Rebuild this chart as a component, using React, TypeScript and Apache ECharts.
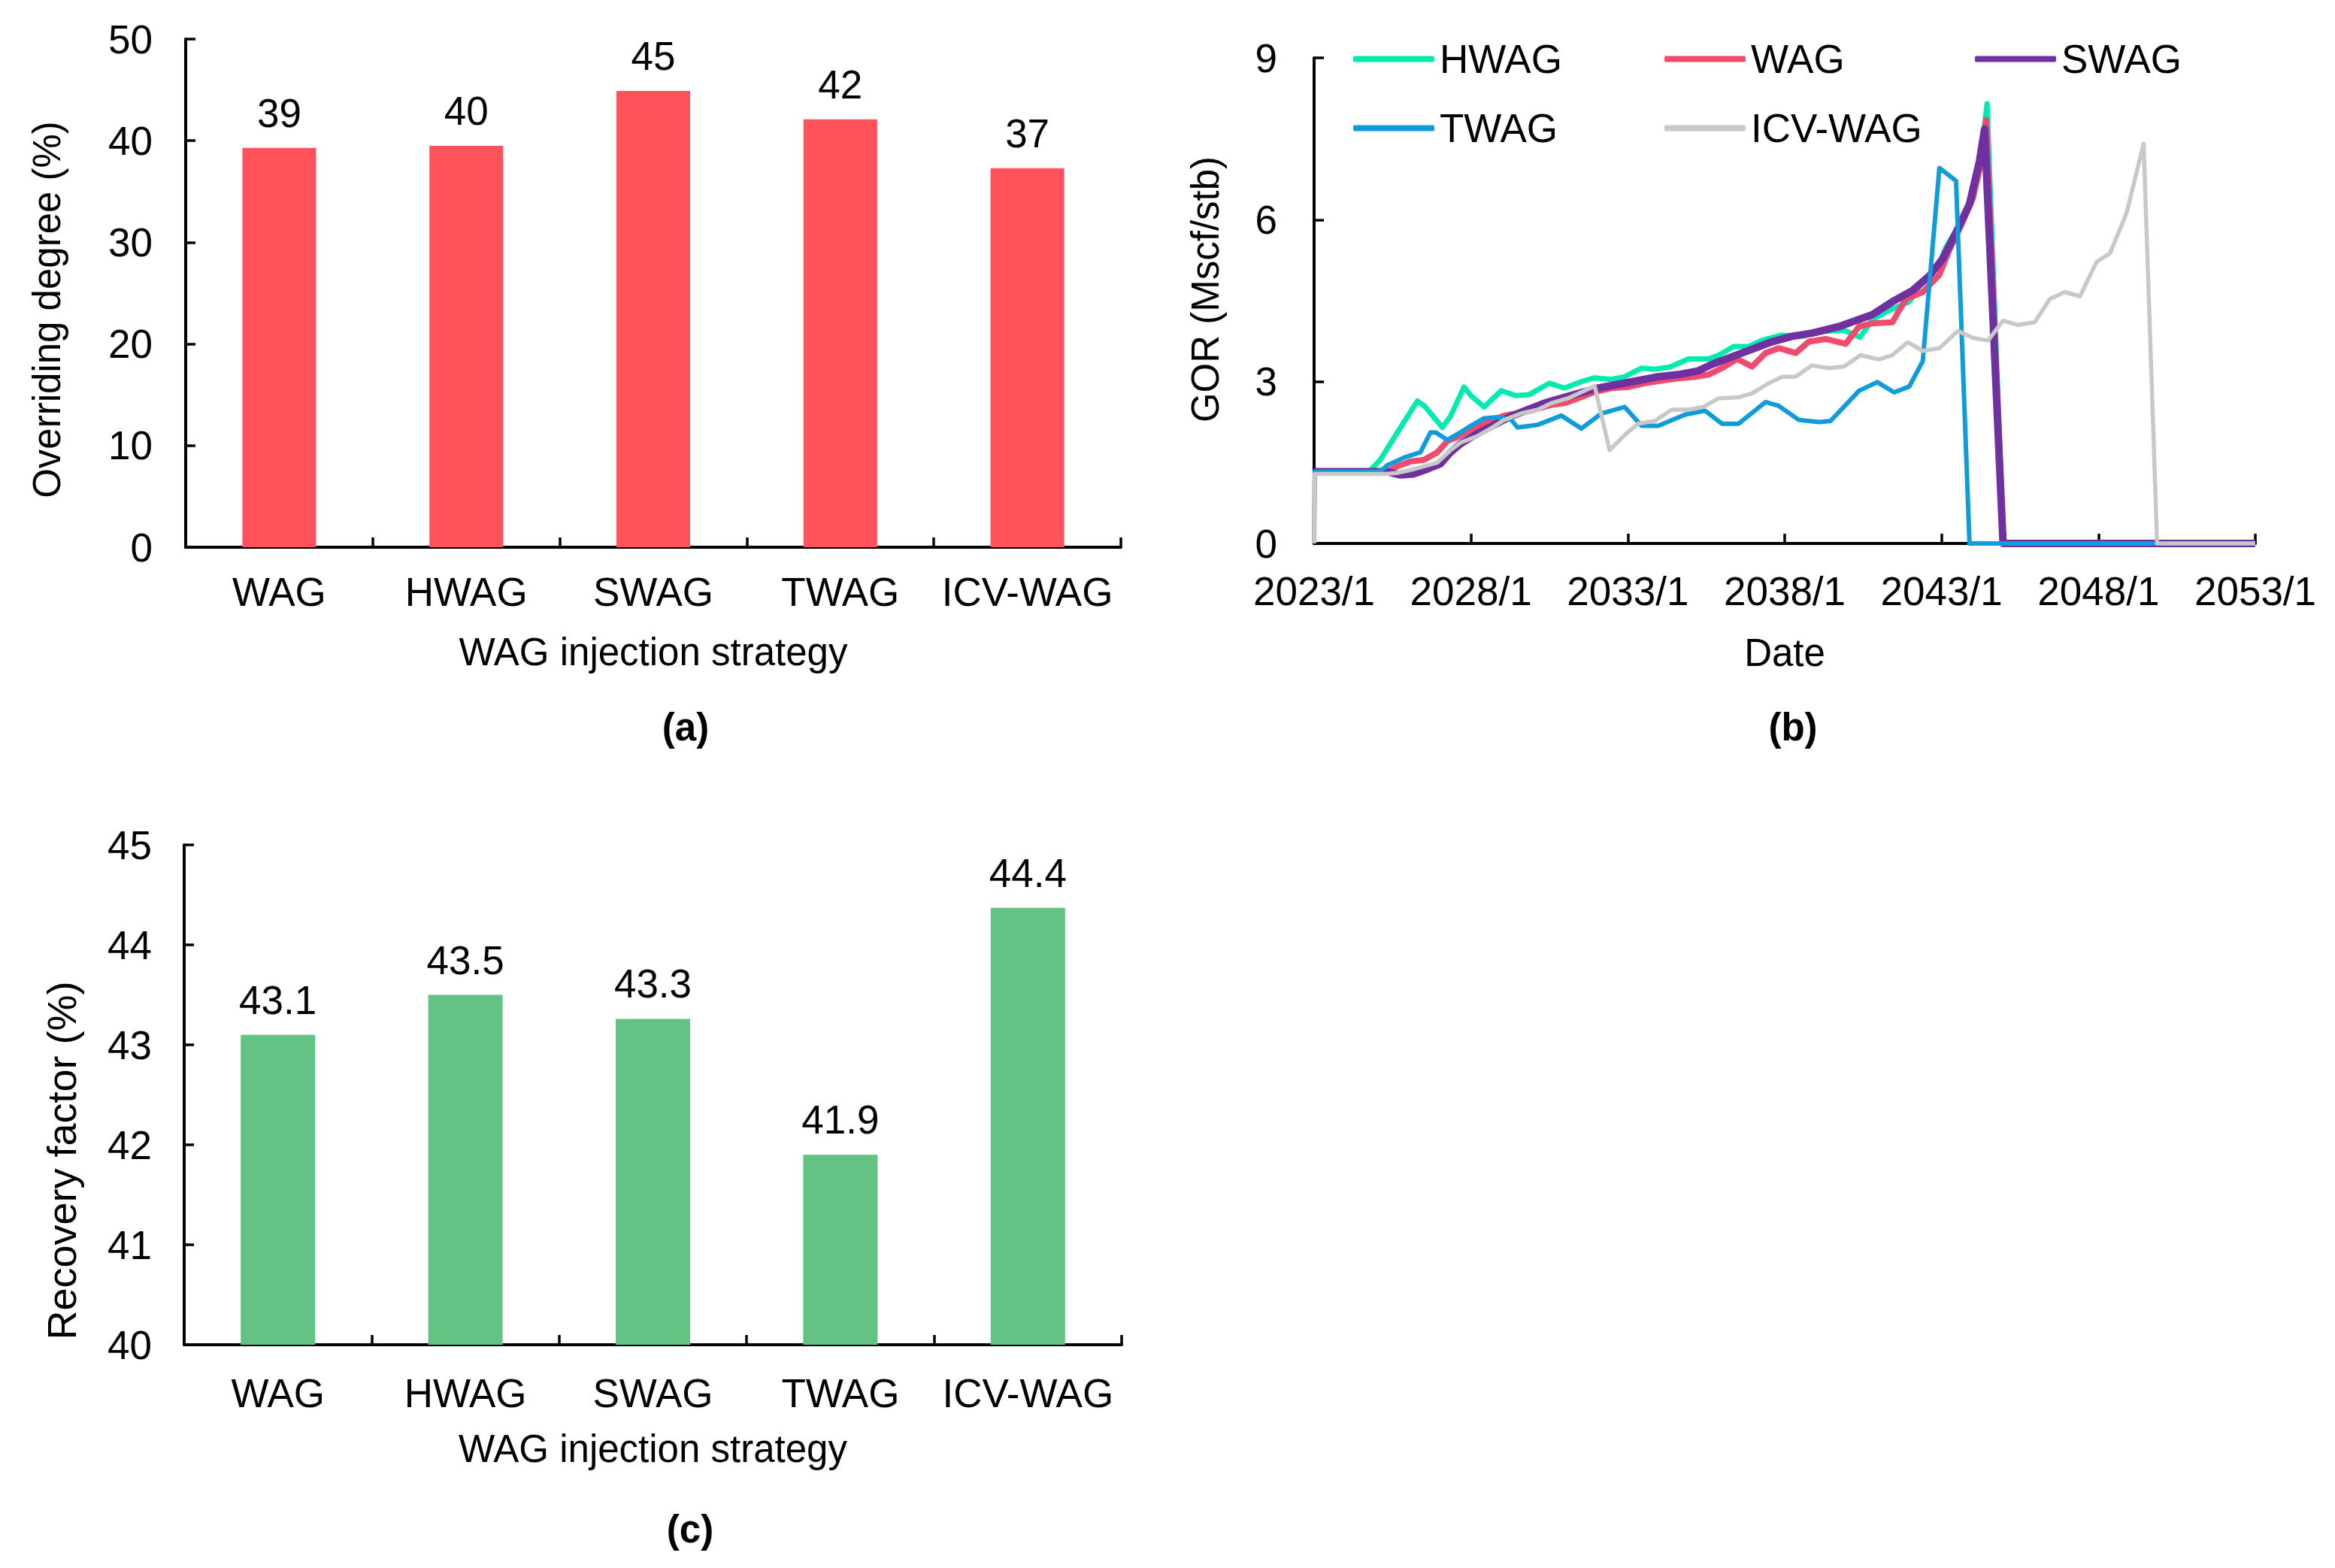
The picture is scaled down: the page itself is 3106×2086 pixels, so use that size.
import React, { useEffect, useRef } from 'react'
import * as echarts from 'echarts'

// ---- data ----
const strategies = ['WAG', 'HWAG', 'SWAG', 'TWAG', 'ICV-WAG']
const overridingDegree = [39.3, 39.5, 44.9, 42.1, 37.3]
const recoveryFactor = [43.1, 43.5, 43.26, 41.9, 44.37]

// GOR series: [years since 2023/1, Mscf/stb]
const gorHWAG = [
  [0, 1.33], [1.75, 1.33], [2.11, 1.55], [2.43, 1.85], [2.81, 2.2], [3.29, 2.64], [3.55, 2.53],
  [4.09, 2.15], [4.35, 2.36], [4.78, 2.9], [5.0, 2.74], [5.42, 2.53], [5.96, 2.83], [6.44, 2.74],
  [6.86, 2.76], [7.5, 2.97], [7.98, 2.88], [8.52, 3.0], [8.94, 3.07], [9.48, 3.04], [9.9, 3.09],
  [10.44, 3.25], [10.86, 3.23], [11.34, 3.27], [11.93, 3.42], [12.57, 3.42], [12.9, 3.49],
  [13.37, 3.65], [13.85, 3.65], [14.3, 3.77], [14.9, 3.86], [15.56, 3.84], [16.1, 3.93],
  [16.9, 3.95], [17.4, 3.82], [17.8, 4.15], [18.33, 4.32], [18.97, 4.48], [19.4, 4.85],
  [19.9, 5.15], [20.14, 5.49], [20.68, 6.02], [21.0, 6.4], [21.2, 6.93], [21.45, 8.15],
  [21.97, 0], [30, 0],
]
const gorWAG = [
  [0, 1.33], [2.33, 1.33], [2.65, 1.43], [3.07, 1.52], [3.5, 1.55], [3.93, 1.69], [4.25, 1.9],
  [4.57, 1.97], [5.0, 2.11], [5.53, 2.25], [6.06, 2.37], [6.49, 2.41], [7.02, 2.48], [7.56, 2.57],
  [7.98, 2.6], [8.41, 2.69], [8.94, 2.81], [9.48, 2.88], [10.01, 2.9], [10.54, 2.97], [11.08, 3.02],
  [11.61, 3.06], [12.15, 3.09], [12.57, 3.13], [13.0, 3.25], [13.48, 3.42], [13.96, 3.28],
  [14.39, 3.53], [14.81, 3.62], [15.35, 3.53], [15.77, 3.74], [16.3, 3.79], [16.94, 3.7],
  [17.37, 4.02], [17.79, 4.08], [18.43, 4.1], [18.86, 4.53], [19.4, 4.66], [19.93, 4.98],
  [20.25, 5.44], [20.68, 5.97], [21.0, 6.4], [21.21, 6.93], [21.42, 7.85], [21.96, 0], [30, 0],
]
const gorSWAG = [
  [0, 1.33], [2.33, 1.33], [2.75, 1.27], [3.18, 1.29], [3.61, 1.38], [4.03, 1.48], [4.35, 1.69],
  [4.67, 1.85], [5.21, 2.04], [5.74, 2.2], [6.28, 2.36], [6.81, 2.48], [7.34, 2.6], [7.88, 2.69],
  [8.41, 2.78], [9.05, 2.88], [9.69, 2.95], [10.33, 3.02], [10.97, 3.09], [11.61, 3.13],
  [12.25, 3.2], [12.68, 3.32], [13.32, 3.46], [13.96, 3.6], [14.6, 3.74], [15.24, 3.84],
  [15.88, 3.9], [16.73, 4.02], [17.79, 4.24], [18.43, 4.48], [19.08, 4.69], [19.61, 4.96],
  [20.04, 5.28], [20.46, 5.76], [20.89, 6.29], [21.21, 7.09], [21.37, 7.68], [21.96, 0], [30, 0],
]
const gorTWAG = [
  [0, 0], [0.02, 1.33], [2.11, 1.33], [2.33, 1.45], [2.86, 1.59], [3.39, 1.69], [3.71, 2.06],
  [3.87, 2.06], [4.25, 1.92], [4.67, 2.06], [4.99, 2.18], [5.42, 2.32], [5.85, 2.34], [6.28, 2.29],
  [6.49, 2.15], [7.13, 2.2], [7.88, 2.37], [8.52, 2.13], [9.16, 2.41], [9.9, 2.53], [10.44, 2.18],
  [10.97, 2.18], [11.83, 2.39], [12.46, 2.46], [13.0, 2.22], [13.53, 2.22], [14.39, 2.62],
  [14.81, 2.55], [15.45, 2.29], [16.1, 2.25], [16.46, 2.27], [17.37, 2.83], [17.95, 2.99],
  [18.49, 2.8], [18.97, 2.91], [19.4, 3.38], [19.93, 6.96], [20.46, 6.72], [20.89, 0], [30, 0],
]
const gorICV = [
  [0, 0], [0.02, 1.29], [2.33, 1.29], [2.65, 1.31], [3.07, 1.36], [3.5, 1.43], [3.93, 1.5],
  [4.35, 1.73], [4.67, 1.87], [5.21, 1.99], [5.63, 2.13], [6.06, 2.29], [6.6, 2.41], [7.13, 2.48],
  [7.56, 2.6], [8.09, 2.69], [8.94, 2.92], [9.42, 1.73], [9.9, 2.01], [10.33, 2.22], [10.86, 2.27],
  [11.4, 2.48], [11.93, 2.48], [12.41, 2.53], [12.89, 2.69], [13.53, 2.71], [13.96, 2.78],
  [14.49, 2.97], [14.92, 3.09], [15.34, 3.09], [15.87, 3.3], [16.41, 3.25], [16.89, 3.28],
  [17.42, 3.49], [18.01, 3.41], [18.43, 3.49], [18.92, 3.73], [19.4, 3.57], [19.93, 3.62],
  [20.52, 3.94], [21.0, 3.81], [21.48, 3.76], [21.96, 4.13], [22.44, 4.05], [22.97, 4.1],
  [23.45, 4.53], [23.93, 4.66], [24.41, 4.58], [24.94, 5.22], [25.37, 5.38], [25.9, 6.13],
  [26.44, 7.41], [26.87, 0], [30, 0],
]
const startYear = 2023

const FONT = '"Liberation Sans", Arial, sans-serif'
const FS = 53 // tick labels, legend, bar labels
const NFS = 51 // axis names

const axisLine = { show: true, lineStyle: { color: '#000', width: 4 } }
const axisTick = { show: true, inside: true, length: 13, lineStyle: { color: '#000', width: 3.5 } }
const label = (margin: number) => ({ fontSize: FS, fontFamily: FONT, color: '#000', margin })
const nameStyle = { fontSize: NFS, fontFamily: FONT, color: '#000' }

const App: React.FC = () => {
  const ref = useRef<HTMLDivElement>(null)

  useEffect(() => {
    if (!ref.current) return
    const chart = echarts.init(ref.current, undefined, { renderer: 'svg' })

    const lines = [
      { name: 'HWAG', data: gorHWAG, color: '#00EBB0', width: 7 },
      { name: 'WAG', data: gorWAG, color: '#F04A6C', width: 8 },
      { name: 'SWAG', data: gorSWAG, color: '#7030A0', width: 10 },
      { name: 'TWAG', data: gorTWAG, color: '#109CDA', width: 6 },
      { name: 'ICV-WAG', data: gorICV, color: '#C8C8C8', width: 5.5 },
    ]
    const legendSpots: Record<string, [number, number]> = {
      HWAG: [1800, 79], WAG: [2214, 79], SWAG: [2627, 79], TWAG: [1800, 171], 'ICV-WAG': [2214, 171],
    }

    const vText = (text: string, x: number, y: number, size: number) => ({
      type: 'text', x, y, rotation: Math.PI / 2,
      style: { text, fontSize: size, fontFamily: FONT, fill: '#000', align: 'center', verticalAlign: 'middle' } as any,
    })
    const panelTag = (text: string, x: number, y: number) => ({
      type: 'text', x, y,
      style: { text, fontSize: NFS, fontWeight: 'bold', fontFamily: FONT, fill: '#000', align: 'center', verticalAlign: 'middle' } as any,
    })

    const option: echarts.EChartsOption = {
      animation: false,
      backgroundColor: '#fff',
      grid: [
        { left: 247, top: 52, width: 1244, height: 676 },
        { left: 1748, top: 77, width: 1252, height: 646 },
        { left: 245, top: 1124, width: 1247, height: 665 },
      ],
      legend: lines.map((l) => ({
        data: [l.name],
        left: legendSpots[l.name][0],
        top: legendSpots[l.name][1] - 27,
        padding: 0,
        itemWidth: 108,
        itemHeight: 8,
        icon: 'roundRect',
        selectedMode: false,
        textStyle: { fontSize: FS, fontFamily: FONT, color: '#000', padding: [0, 0, 0, 2] },
      })),
      xAxis: [
        {
          type: 'category', gridIndex: 0, data: strategies,
          axisLine, axisTick: { ...axisTick, interval: 0 },
          axisLabel: { ...label(33), interval: 0 },
          name: 'WAG injection strategy', nameLocation: 'middle', nameGap: 114, nameTextStyle: nameStyle,
        },
        {
          type: 'value', gridIndex: 1, min: 0, max: 30, interval: 5,
          splitLine: { show: false }, axisLine, axisTick,
          axisLabel: { ...label(37), formatter: (v: number) => `${startYear + v}/1` },
          name: 'Date', nameLocation: 'middle', nameGap: 120, nameTextStyle: nameStyle,
        },
        {
          type: 'category', gridIndex: 2, data: strategies,
          axisLine, axisTick: { ...axisTick, interval: 0 },
          axisLabel: { ...label(38), interval: 0 },
          name: 'WAG injection strategy', nameLocation: 'middle', nameGap: 113, nameTextStyle: nameStyle,
        },
      ],
      yAxis: [
        {
          type: 'value', gridIndex: 0, min: 0, max: 50, interval: 10,
          splitLine: { show: false }, axisLine, axisTick, axisLabel: label(44),
        },
        {
          type: 'value', gridIndex: 1, min: 0, max: 9, interval: 3,
          splitLine: { show: false }, axisLine, axisTick, axisLabel: label(49),
        },
        {
          type: 'value', gridIndex: 2, min: 40, max: 45, interval: 1,
          splitLine: { show: false }, axisLine, axisTick, axisLabel: label(43),
        },
      ],
      series: [
        {
          type: 'bar', xAxisIndex: 0, yAxisIndex: 0, data: overridingDegree, barWidth: 98,
          itemStyle: { color: '#FF525A' },
          label: {
            show: true, position: 'top', distance: 20, fontSize: FS, fontFamily: FONT, color: '#000',
            formatter: (p: any) => String(Math.round(p.value)),
          },
        },
        ...lines.map((l) => ({
          type: 'line' as const, name: l.name, xAxisIndex: 1, yAxisIndex: 1, data: l.data,
          showSymbol: false, symbol: 'none',
          lineStyle: { color: l.color, width: l.width, join: 'round' as const },
          itemStyle: { color: l.color },
        })),
        {
          type: 'bar', xAxisIndex: 2, yAxisIndex: 2, data: recoveryFactor, barWidth: 99,
          itemStyle: { color: '#63C384' },
          label: {
            show: true, position: 'top', distance: 20, fontSize: FS, fontFamily: FONT, color: '#000',
            formatter: (p: any) => Number(p.value).toFixed(1),
          },
        },
      ],
      graphic: [
        vText('Overriding degree (%)', 62, 412, NFS),
        vText('GOR (Mscf/stb)', 1603, 385, NFS),
        vText('Recovery factor (%)', 82, 1544, 54),
        panelTag('(a)', 912, 967),
        panelTag('(b)', 2385, 967),
        panelTag('(c)', 918, 2034),
      ],
    }

    chart.setOption(option)
    return () => {
      chart.dispose()
    }
  }, [])

  return (
    <div
      ref={ref}
      style={{ position: 'fixed', left: 0, top: 0, width: '3106px', height: '2086px', background: '#fff' }}
    />
  )
}

export default App
